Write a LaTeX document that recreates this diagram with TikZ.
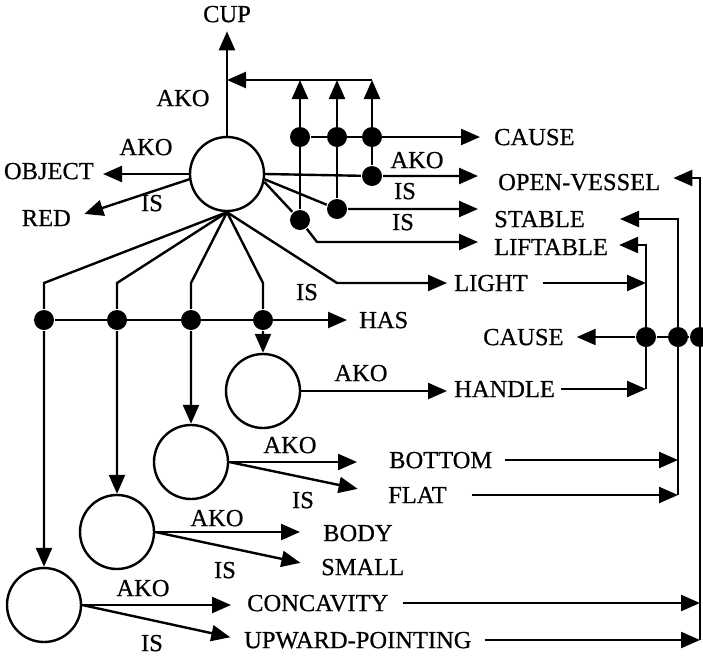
\documentclass[tikz,border=0pt]{standalone}
\usepackage{fontspec}
\setmainfont{Liberation Serif}[FakeBold=0.6]
\usetikzlibrary{arrows.meta}

\begin{document}
\begin{tikzpicture}[x=1pt,y=-1pt,line width=2.4pt,>={Triangle[length=19pt,width=16pt]},
    frame/.style={circle,draw,minimum size=74pt,inner sep=0pt},
    dot/.style={circle,fill,minimum size=20pt,inner sep=0pt},
    word/.style={inner sep=0pt,text height=16.2pt,text depth=0pt,font=\fontsize{24.5}{27}\selectfont}]
       \useasboundingbox(0,0)rectangle(703,656);%枠

       \node[frame](c0)at(227,174){};%CUPの円
       \foreach \n/\x/\y in{c1/263/391,c2/191/462,c3/117/532,c4/44/605}
           \node[frame](\n)at(\x,\y){};%部分の円

       \foreach \n/\x/\y in{d1/300/137,d2/337/137,d3/372/137,e1/300/220,e2/337/209,e3/372/176,
                            h1/263/320,h2/191/320,h3/117/320,h4/44/320,g1/646/337,g2/678/337,g3/700/337}
           \node[dot](\n)at(\x,\y){};%黒丸

       \node[word](cup)at(227,14){CUP};
       \node[word,anchor=east](object)at(95,171){OBJECT};
       \node[word,anchor=east](red)at(72,218){RED};
       \foreach \n/\x/\y/\t in{cause/493/137/CAUSE,ovessel/497/182/OPEN-VESSEL,stable/493/219/STABLE,
                               liftable/493/247/LIFTABLE,light/453/283/LIGHT,has/358/320/HAS,
                               causeb/482/337/CAUSE,handle/453/389/HANDLE,bottom/388/460/BOTTOM,
                               flat/387/495/FLAT,body/322/533/BODY,small/320/567/SMALL,
                               concav/246/603/CONCAVITY,upward/243/640/UPWARD-POINTING}
           \node[word,anchor=west](\n)at(\x,\y){\t};%概念

       \foreach \n/\x/\y/\t in{l1/183/98/AKO,l2/146/147/AKO,l3/152/203/IS,l4/417/160/AKO,
                               l5/405/191/IS,l6/403/222/IS,l7/307/292/IS,l8/361/373/AKO,
                               l9/290/445/AKO,l10/303/500/IS,l11/217/518/AKO,l12/225/570/IS,
                               l13/143/588/AKO,l14/152/643/IS}
           \node[word](\n)at(\x,\y){\t};%関係

       \coordinate(k0)at(227,80);
       \foreach \i/\x in{1/300,2/337,3/372}
           \coordinate(k\i)at(\x,80);%上の横線
       \coordinate(q)at(317,242);
       \coordinate(b0)at(337,283);
       \foreach \i/\x in{1/263,2/191,3/117,4/44}
           \coordinate(b\i)at(\x,283);%折れ点
       \coordinate(u1)at(646,245);\coordinate(w1)at(646,389);
       \coordinate(u2)at(678,219);\coordinate(w2)at(678,495);
       \coordinate(u3)at(700,178);\coordinate(w3)at(700,640);%右の縦線

       \draw[->,shorten >=8pt](c0)--(cup);%AKO CUP
       \draw[->](k3)--(k0);
       \draw[->](e1)--(k1);
       \draw[->](e2)--(k2);
       \draw[->](e3)--(k3);
       \draw[->,shorten >=13pt](d1)--(d1-|cause.west);
       \draw[->,shorten >=19pt](c0.east)--(e3)--(e3-|ovessel.west);
       \draw[->,shorten >=15pt](c0.-8)--(e2)--(e2-|stable.west);
       \draw[->,shorten >=15pt](c0.-12)--(e1)--(q)--(q-|liftable.west);
       \draw[->,shorten >=8pt](c0.west)--(c0.west-|object.east);
       \draw[->,shorten >=13pt](c0.188)--(red.east);

       \draw[->,shorten >=6pt](c0.south)--(b0)--(b0-|light.west);%IS LIGHT
       \foreach \i in{1,...,4}
           \draw(c0.south)--(b\i)--(h\i)[->]--(c\i);%HAS
       \draw[->,shorten >=11pt](h4)--(h4-|has.west);

       \draw[->,shorten >=6pt](c1.east)--(c1.east-|handle.west);
       \draw[->,shorten >=31pt](c2.east)--(c2.east-|bottom.west);
       \draw[->,shorten >=30pt](c2.east)--(flat.west);
       \draw[->,shorten >=22pt](c3.east)--(c3.east-|body.west);
       \draw[->,shorten >=20pt](c3.east)--(small.west);
       \draw[->,shorten >=15pt](c4.east)--(c4.east-|concav.west);
       \draw[->,shorten >=13pt](c4.east)--(upward.west);

       \draw[->,shorten >=10pt](w1)--(u1)--(u1-|liftable.east);%右から
       \draw[->,shorten >=34pt](w2)--(u2)--(u2-|stable.east);
       \draw[->,shorten >=12pt](w3)--(u3)--(u3-|ovessel.east);
       \draw(g1)--(g3);
       \draw[->,shorten >=12pt](g1)--(g1-|causeb.east);

       \draw[->,shorten <=14pt](light.east)--(light.east-|w1);
       \draw[->,shorten <=5pt](handle.east)--(handle.east-|w1);
       \draw[->,shorten <=12pt](bottom.east)--(bottom.east-|w2);
       \draw[->,shorten <=24pt](flat.east)--(flat.east-|w2);
       \draw[->,shorten <=13pt](concav.east)--(concav.east-|w3);
       \draw[->,shorten <=12pt](upward.east)--(upward.east-|w3);
\end{tikzpicture}
\end{document}
